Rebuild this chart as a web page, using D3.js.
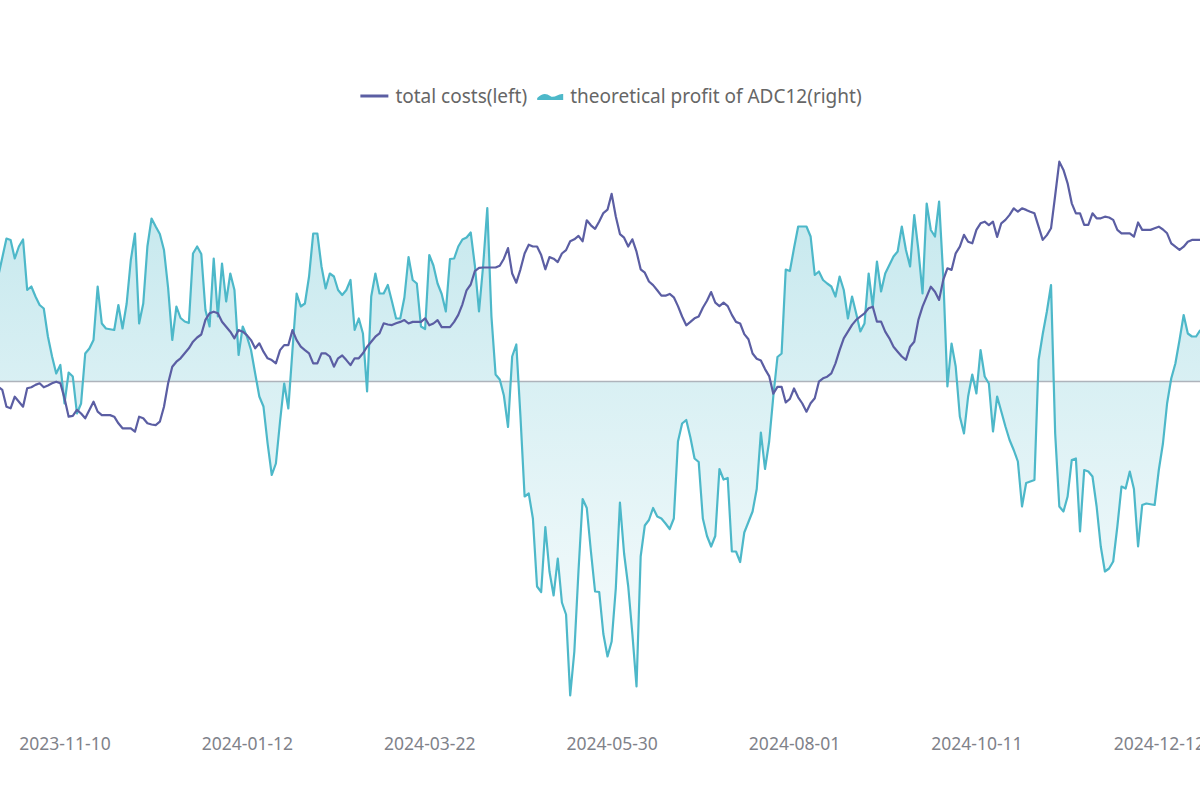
<!DOCTYPE html>
<html>
<head>
<meta charset="utf-8">
<script src="https://cdn.jsdelivr.net/npm/d3@7"></script>
<style>
  html, body { margin: 0; padding: 0; background: #fff; }
  svg { display: block; font-family: "Noto Sans", "Open Sans", sans-serif; }
</style>
</head>
<body>
<svg id="chart" width="1200" height="800"></svg>
<script>
const seriesNames = ["total costs(left)", "theoretical profit of ADC12(right)"];

// x axis: trading days counted from 2023-11-10, one label every 44 days
const tickDays = [0, 44, 88, 132, 176, 220, 264];
const tickLabels = ["2023-11-10", "2024-01-12", "2024-03-22", "2024-05-30", "2024-08-01", "2024-10-11", "2024-12-12"];

// [trading day, total costs]  (left axis)
const totalCosts = [
  [-16,19974],[-15,19958],[-14,19874],[-13,19866],[-12,19924],[-11,19899],[-10,19874],[-9,19966],[-8,19971],[-7,19983],
  [-6,19991],[-5,19971],[-4,19980],[-3,19991],[-2,19999],[-1,19991],[0,19916],[1,19824],[2,19828],[3,19858],
  [4,19840],[5,19816],[6,19858],[7,19899],[8,19849],[9,19832],[10,19832],[11,19832],[12,19824],[13,19791],
  [14,19766],[15,19766],[16,19766],[17,19749],[18,19824],[19,19816],[20,19791],[21,19785],[22,19782],[23,19799],
  [24,19874],[25,19991],[26,20074],[27,20099],[28,20116],[29,20141],[30,20166],[31,20199],[32,20220],[33,20235],
  [34,20308],[35,20341],[36,20349],[37,20341],[38,20299],[39,20274],[40,20249],[41,20216],[42,20257],[43,20249],
  [44,20232],[45,20207],[46,20166],[47,20191],[48,20149],[49,20116],[50,20107],[51,20091],[52,20157],[53,20182],
  [54,20182],[55,20257],[56,20207],[57,20174],[58,20157],[59,20141],[60,20091],[61,20091],[62,20141],[63,20141],
  [64,20125],[65,20074],[66,20116],[67,20130],[68,20107],[69,20082],[70,20116],[71,20116],[72,20141],[73,20174],
  [74,20199],[75,20224],[76,20241],[77,20291],[78,20285],[79,20282],[80,20291],[81,20298],[82,20307],[83,20290],
  [84,20298],[85,20298],[86,20298],[87,20316],[88,20281],[89,20290],[90,20307],[91,20272],[92,20272],[93,20272],
  [94,20298],[95,20333],[96,20386],[97,20456],[98,20485],[99,20552],[100,20568],[101,20570],[102,20570],[103,20570],
  [104,20570],[105,20579],[106,20614],[107,20667],[108,20540],[109,20494],[110,20561],[111,20640],[112,20684],[113,20675],
  [114,20675],[115,20632],[116,20561],[117,20622],[118,20614],[119,20597],[120,20640],[121,20657],[122,20701],[123,20711],
  [124,20728],[125,20701],[126,20806],[127,20781],[128,20763],[129,20800],[130,20842],[131,20859],[132,20938],[133,20825],
  [134,20737],[135,20719],[136,20675],[137,20711],[138,20649],[139,20561],[140,20544],[141,20500],[142,20482],[143,20456],
  [144,20429],[145,20429],[146,20438],[147,20421],[148,20377],[149,20325],[150,20281],[151,20298],[152,20316],[153,20325],
  [154,20369],[155,20404],[156,20447],[157,20394],[158,20377],[159,20394],[160,20377],[161,20333],[162,20298],[163,20290],
  [164,20237],[165,20211],[166,20140],[167,20114],[168,20105],[169,20062],[170,20027],[171,19939],[172,19973],[173,19973],
  [174,19895],[175,19913],[176,19965],[177,19921],[178,19890],[179,19849],[180,19891],[181,19916],[182,19999],[183,20016],
  [184,20024],[185,20041],[186,20091],[187,20157],[188,20216],[189,20249],[190,20283],[191,20308],[192,20325],[193,20341],
  [194,20366],[195,20374],[196,20299],[197,20299],[198,20249],[199,20216],[200,20174],[201,20149],[202,20125],[203,20108],
  [204,20174],[205,20199],[206,20308],[207,20374],[208,20424],[209,20474],[210,20449],[211,20408],[212,20508],[213,20566],
  [214,20558],[215,20641],[216,20674],[217,20733],[218,20699],[219,20691],[220,20758],[221,20791],[222,20799],[223,20782],
  [224,20799],[225,20723],[226,20791],[227,20808],[228,20833],[229,20866],[230,20849],[231,20866],[232,20858],[233,20849],
  [234,20841],[235,20774],[236,20708],[237,20732],[238,20766],[239,20930],[240,21099],[241,21058],[242,20991],[243,20891],
  [244,20841],[245,20841],[246,20783],[247,20783],[248,20841],[249,20816],[250,20816],[251,20824],[252,20820],[253,20808],
  [254,20758],[255,20741],[256,20741],[257,20741],[258,20724],[259,20795],[260,20758],[261,20758],[262,20758],[263,20766],
  [264,20774],[265,20760],[266,20741],[267,20691],[268,20674],[269,20658],[270,20674],[271,20699],[272,20708],[273,20708],
  [274,20708]
];

// [trading day, theoretical profit]  (right axis)
const profit = [
  [-16,210],[-14,286],[-13,283],[-12,246],[-11,270],[-10,284],[-9,183],[-8,190],[-7,170],[-6,153],
  [-5,146],[-4,90],[-3,50],[-2,16],[-1,33],[0,-44],[1,18],[2,10],[3,-64],[4,-44],
  [5,56],[6,66],[7,83],[8,190],[9,116],[10,106],[12,103],[13,153],[14,106],[15,156],
  [16,243],[17,296],[18,116],[19,156],[20,270],[21,326],[22,310],[23,295],[24,263],[25,187],
  [26,83],[27,150],[28,127],[29,120],[30,117],[31,256],[32,270],[33,255],[34,143],[35,110],
  [36,246],[37,130],[38,236],[39,160],[40,216],[41,183],[42,53],[43,110],[44,90],[45,63],
  [46,16],[47,-30],[48,-50],[49,-124],[50,-187],[51,-164],[52,-80],[53,-4],[54,-54],[55,63],
  [56,176],[57,150],[58,156],[59,210],[60,296],[61,296],[62,230],[63,186],[64,216],[65,210],
  [66,183],[67,173],[68,183],[69,203],[70,103],[71,126],[72,96],[73,-20],[74,170],[75,216],
  [76,176],[77,176],[78,193],[79,160],[80,126],[81,126],[82,168],[83,249],[84,203],[85,196],
  [86,110],[87,105],[88,253],[89,232],[90,196],[91,175],[92,140],[93,245],[94,246],[95,270],
  [96,284],[97,288],[98,298],[99,232],[100,140],[101,232],[102,347],[103,130],[104,14],[105,4],
  [106,-28],[107,-91],[108,50],[109,74],[110,-70],[111,-230],[112,-224],[113,-274],[114,-410],[115,-421],
  [116,-291],[117,-380],[118,-428],[119,-354],[120,-442],[121,-466],[122,-628],[123,-540],[124,-379],[125,-235],
  [126,-253],[127,-340],[128,-420],[129,-421],[130,-505],[131,-550],[132,-520],[133,-414],[134,-242],[135,-344],
  [136,-410],[137,-505],[138,-610],[139,-350],[140,-288],[141,-277],[142,-253],[143,-270],[144,-274],[145,-284],
  [146,-295],[147,-274],[148,-120],[149,-84],[150,-77],[151,-112],[152,-154],[153,-161],[154,-274],[155,-309],
  [156,-330],[157,-309],[158,-175],[159,-196],[160,-193],[161,-340],[162,-340],[163,-361],[164,-302],[165,-281],
  [166,-260],[167,-215],[168,-102],[169,-175],[170,-120],[171,-30],[172,49],[173,56],[174,224],[175,221],
  [176,267],[177,310],[178,310],[179,310],[180,290],[181,213],[182,220],[183,203],[184,196],[185,190],
  [186,170],[187,210],[188,183],[189,126],[190,170],[191,136],[192,100],[193,116],[194,216],[195,150],
  [196,240],[197,180],[198,216],[199,233],[200,250],[201,260],[202,310],[203,263],[204,230],[205,333],
  [206,263],[207,176],[208,356],[209,303],[210,290],[211,360],[212,210],[213,-10],[214,76],[215,30],
  [216,-70],[217,-104],[218,-30],[219,14],[220,-24],[221,63],[222,10],[223,-4],[224,-100],[225,-30],
  [226,-60],[227,-90],[228,-117],[229,-137],[230,-160],[231,-250],[232,-203],[233,-200],[234,-197],[235,43],
  [236,95],[237,140],[238,193],[239,-104],[240,-250],[241,-260],[242,-230],[243,-157],[244,-154],[245,-300],
  [246,-177],[247,-180],[248,-190],[249,-250],[250,-330],[251,-380],[252,-374],[253,-360],[254,-290],[255,-210],
  [256,-214],[257,-180],[258,-215],[259,-330],[260,-247],[261,-244],[263,-247],[264,-177],[265,-124],[266,-44],
  [267,6],[268,36],[269,83],[270,133],[271,96],[272,90],[273,90],[274,103]
];

const costColor = "#5b5ea3";
const profitColor = "#4db8c9";

const svg = d3.select("#chart");

// the visible part is a crop: the plot runs past both edges
const x = d3.scaleLinear()
  .domain([0, 264])
  .range([64.5, 1158.8]);

const yLeft = d3.scaleLinear()
  .domain([18400, 21250])
  .range([701.5, 131.5]);

const yRight = d3.scaleLinear()
  .domain([-640, 500])
  .range([701.5, 131.5]);

// gradient for the profit area
const grad = svg.append("defs").append("linearGradient")
  .attr("id", "profitFill")
  .attr("gradientUnits", "userSpaceOnUse")
  .attr("x1", 0).attr("x2", 0)
  .attr("y1", yRight.range()[1]).attr("y2", yRight.range()[0]);
grad.append("stop").attr("offset", "0%").attr("stop-color", profitColor).attr("stop-opacity", 0.36);
grad.append("stop").attr("offset", "100%").attr("stop-color", profitColor).attr("stop-opacity", 0.03);

const area = d3.area()
  .x((d) => x(d[0]))
  .y0(yRight(0))
  .y1((d) => yRight(d[1]));

svg.append("path")
  .datum(profit)
  .attr("d", area)
  .attr("fill", "url(#profitFill)");

// zero line of the x axis
svg.append("line")
  .attr("x1", 0).attr("x2", 1200)
  .attr("y1", yRight(0)).attr("y2", yRight(0))
  .attr("stroke", "#aeb3bb")
  .attr("stroke-width", 1.5);

const profitLine = d3.line()
  .x((d) => x(d[0]))
  .y((d) => yRight(d[1]));

svg.append("path")
  .datum(profit)
  .attr("d", profitLine)
  .attr("fill", "none")
  .attr("stroke", profitColor)
  .attr("stroke-width", 2.2)
  .attr("stroke-linejoin", "round");

const costLine = d3.line()
  .x((d) => x(d[0]))
  .y((d) => yLeft(d[1]));

svg.append("path")
  .datum(totalCosts)
  .attr("d", costLine)
  .attr("fill", "none")
  .attr("stroke", costColor)
  .attr("stroke-width", 2.2)
  .attr("stroke-linejoin", "round");

// x axis labels
const xAxis = d3.axisBottom(x)
  .tickValues(tickDays)
  .tickFormat((d, i) => tickLabels[i])
  .tickSize(0)
  .tickPadding(0);

const axisG = svg.append("g")
  .attr("transform", "translate(0,738)")
  .call(xAxis);
axisG.select(".domain").remove();
axisG.selectAll("text")
  .attr("fill", "#7f828a")
  .style("font-size", "17.5px")
  .style("font-family", "\"Noto Sans\", sans-serif");

// legend
const legend = svg.append("g").attr("transform", "translate(0,96)");
let cursor = 0;

const item1 = legend.append("g");
item1.append("line")
  .attr("x1", 0).attr("x2", 28)
  .attr("stroke", costColor)
  .attr("stroke-width", 3);
const t1 = item1.append("text")
  .attr("x", 35)
  .attr("dy", "0.35em")
  .attr("fill", "#666")
  .style("font-size", "19px")
  .text(seriesNames[0]);
cursor = 35 + t1.node().getComputedTextLength() + 10;

const item2 = legend.append("g").attr("transform", `translate(${cursor},0)`);
item2.append("path")
  .attr("d", "M0,2 C5,-3 9,-3 13,0 C17,3 21,-3 26,-2 L26,4 L0,4 Z")
  .attr("fill", profitColor);
const t2 = item2.append("text")
  .attr("x", 33)
  .attr("dy", "0.35em")
  .attr("fill", "#666")
  .style("font-size", "19px")
  .text(seriesNames[1]);
const total = cursor + 33 + t2.node().getComputedTextLength();
legend.attr("transform", `translate(${611 - total / 2},96)`);
</script>
</body>
</html>
